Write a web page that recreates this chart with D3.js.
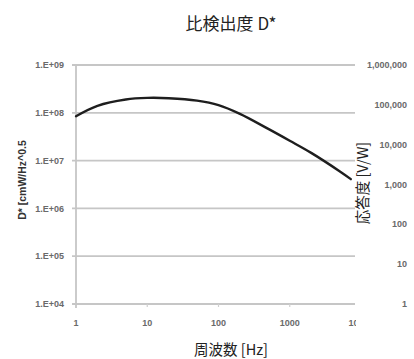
<!DOCTYPE html>
<html>
<head>
<meta charset="utf-8">
<script src="https://cdn.jsdelivr.net/npm/d3@7"></script>
<style>
  html, body { margin: 0; padding: 0; background: #fff; }
  svg { display: block; }
</style>
</head>
<body>
<svg id="chart" width="414" height="359"></svg>
<script>
// Specific detectivity D* versus modulation frequency
const frequencyHz = [1, 2, 5, 10, 20, 50, 100, 200, 500, 1000, 2000, 5000, 7200];
const detectivity = [8.5e7, 1.4e8, 1.9e8, 2.05e8, 2.02e8, 1.8e8, 1.45e8, 9.5e7, 4.6e7, 2.6e7, 1.45e7, 6.0e6, 4.1e6];

const xTicks = [1, 10, 100, 1000, 10000];
const xTickLabels = ["1", "10", "100", "1000", "10000"];
const leftTicks = [1e4, 1e5, 1e6, 1e7, 1e8, 1e9];
const leftTickLabels = ["1.E+04", "1.E+05", "1.E+06", "1.E+07", "1.E+08", "1.E+09"];
const rightTicks = [1, 10, 100, 1000, 10000, 100000, 1000000];
const rightTickLabels = ["1", "10", "100", "1,000", "10,000", "100,000", "1,000,000"];

const titleText = "比検出度 D*";
const xTitle = "周波数 [Hz]";
const leftTitle = "D* [cmW/Hz^0.5";
const rightTitle = "応答度 [V/W]";

const svg = d3.select("#chart");
const plot = { left: 76, right: 355, top: 65, bottom: 304 };

const x = d3.scaleLog().domain([1, 10000]).range([plot.left, 361]);
const yL = d3.scaleLog().domain([1e4, 1e9]).range([plot.bottom, plot.top]);
const yR = d3.scaleLog().domain([1, 1e6]).range([plot.bottom, plot.top]);

const cjk = "'Noto Sans CJK JP', 'Noto Sans', sans-serif";
const small = "'Liberation Sans', Arial, sans-serif";

svg.append("defs").append("clipPath").attr("id", "plotClip")
  .append("rect")
  .attr("x", 0).attr("y", 0)
  .attr("width", plot.right + 1).attr("height", 359);

// Horizontal gridlines with short ticks on the left
svg.append("g")
  .selectAll("line")
  .data(leftTicks)
  .join("line")
  .attr("x1", plot.left - 4)
  .attr("x2", plot.right)
  .attr("y1", d => yL(d))
  .attr("y2", d => yL(d))
  .attr("stroke", "#c6c6c6")
  .attr("stroke-width", 1.8);

// Vertical axis line
svg.append("line")
  .attr("x1", plot.left).attr("x2", plot.left)
  .attr("y1", plot.top).attr("y2", plot.bottom + 4)
  .attr("stroke", "#c6c6c6")
  .attr("stroke-width", 1.8);

// Small ticks under the x axis
svg.append("g")
  .selectAll("line")
  .data(xTicks.slice(1, 4))
  .join("line")
  .attr("x1", d => x(d)).attr("x2", d => x(d))
  .attr("y1", plot.bottom).attr("y2", plot.bottom + 3)
  .attr("stroke", "#cfcfcf")
  .attr("stroke-width", 1.2);

const tickStyle = sel => sel
  .attr("font-family", small)
  .attr("font-size", 9)
  .attr("font-weight", "bold")
  .attr("fill", "#6a6a6a");

// Left tick labels
svg.append("g")
  .selectAll("text")
  .data(leftTicks)
  .join("text")
  .attr("x", 64)
  .attr("y", d => yL(d))
  .attr("dy", "0.35em")
  .attr("text-anchor", "end")
  .call(tickStyle)
  .text((d, i) => leftTickLabels[i]);

// Right tick labels (responsivity)
svg.append("g")
  .selectAll("text")
  .data(rightTicks)
  .join("text")
  .attr("x", 407)
  .attr("y", d => yR(d))
  .attr("dy", "0.35em")
  .attr("text-anchor", "end")
  .call(tickStyle)
  .text((d, i) => rightTickLabels[i]);

// X tick labels, clipped at the plot edge
svg.append("g")
  .attr("clip-path", "url(#plotClip)")
  .selectAll("text")
  .data(xTicks)
  .join("text")
  .attr("x", d => x(d))
  .attr("y", 323)
  .attr("dy", "0.35em")
  .attr("text-anchor", "middle")
  .call(tickStyle)
  .text((d, i) => xTickLabels[i]);

// D* curve
const line = d3.line()
  .x((d, i) => x(frequencyHz[i]))
  .y(d => yL(d))
  .curve(d3.curveCatmullRom.alpha(0.5));

svg.append("path")
  .datum(detectivity)
  .attr("d", line)
  .attr("fill", "none")
  .attr("stroke", "#1e1e1e")
  .attr("stroke-width", 2.4)
  .attr("stroke-linecap", "round");

// Titles
svg.append("text")
  .attr("x", 231).attr("y", 30)
  .attr("text-anchor", "middle")
  .attr("font-family", cjk)
  .attr("font-size", 17)
  .attr("fill", "#222")
  .text(titleText);

svg.append("text")
  .attr("x", 231).attr("y", 355)
  .attr("text-anchor", "middle")
  .attr("font-family", cjk)
  .attr("font-size", 14.5)
  .attr("fill", "#222")
  .text(xTitle);

svg.append("text")
  .attr("transform", "translate(26,180) rotate(-90)")
  .attr("text-anchor", "middle")
  .attr("font-family", small)
  .attr("font-weight", "bold")
  .attr("font-size", 10.5)
  .attr("fill", "#333")
  .text(leftTitle);

svg.append("text")
  .attr("transform", "translate(368,183) rotate(-90)")
  .attr("text-anchor", "middle")
  .attr("font-family", cjk)
  .attr("font-size", 14.5)
  .attr("fill", "#222")
  .text(rightTitle);
</script>
</body>
</html>
